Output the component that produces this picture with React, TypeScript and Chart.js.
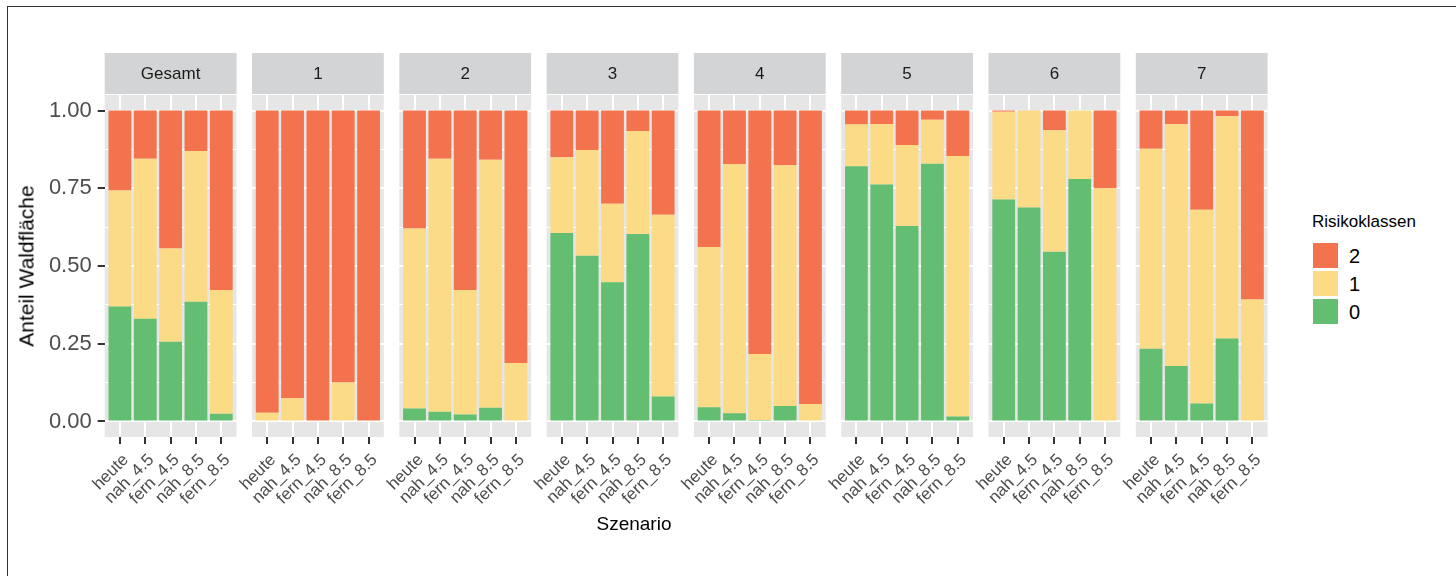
import React, { useEffect, useRef } from "react";
import { Chart, registerables } from "chart.js";

Chart.register(...registerables);

// Facets, scenarios and risk classes
const panels = ["Gesamt", "1", "2", "3", "4", "5", "6", "7"];
const scenarios = ["heute", "nah_4.5", "fern_4.5", "nah_8.5", "fern_8.5"];
const riskClasses = ["0", "1", "2"];
const legendOrder = ["2", "1", "0"];
const majorTicks = [0, 0.25, 0.5, 0.75, 1];

// Share of forest area per risk class; rows = facet, columns = scenario
const class0 = [
  [0.37, 0.33, 0.256, 0.385, 0.025],
  [0, 0, 0, 0, 0],
  [0.042, 0.031, 0.022, 0.044, 0],
  [0.606, 0.533, 0.448, 0.603, 0.08],
  [0.046, 0.026, 0.005, 0.05, 0],
  [0.821, 0.762, 0.629, 0.829, 0.016],
  [0.714, 0.688, 0.546, 0.78, 0.003],
  [0.234, 0.178, 0.058, 0.267, 0],
];
const class1 = [
  [0.373, 0.515, 0.3, 0.485, 0.3975],
  [0.028, 0.075, 0, 0.125, 0],
  [0.579, 0.814, 0.401, 0.798, 0.188],
  [0.244, 0.34, 0.252, 0.331, 0.585],
  [0.515, 0.802, 0.212, 0.774, 0.056],
  [0.134, 0.195, 0.26, 0.141, 0.838],
  [0.282, 0.311, 0.391, 0.22, 0.747],
  [0.643, 0.778, 0.623, 0.715, 0.392],
];
const class2 = [
  [0.257, 0.155, 0.444, 0.13, 0.5775],
  [0.972, 0.925, 1, 0.875, 1],
  [0.379, 0.155, 0.577, 0.158, 0.812],
  [0.15, 0.127, 0.3, 0.066, 0.335],
  [0.439, 0.172, 0.783, 0.176, 0.944],
  [0.045, 0.043, 0.111, 0.03, 0.146],
  [0.004, 0.001, 0.063, 0, 0.25],
  [0.123, 0.044, 0.319, 0.018, 0.608],
];
const classSeries = [class0, class1, class2];

const classColors: Record<string, string> = {
  "0": "#63BE71",
  "1": "#FCDB87",
  "2": "#F4734F",
};

const FONT = '"Liberation Sans", Arial, Helvetica, sans-serif';
const PANEL_BG = "#E6E6E7";
const STRIP_BG = "#D3D4D5";
const TICK_TEXT = "#4D4D4D";

// Facet geometry
const STRIP_H = 42;
const PANEL_H = 342;
const XAXIS_H = 80;
const CANVAS_TOP = 53;
const FIRST_LEFT = 104.7;
const PANEL_STEP = 147.3;
const PANEL_W = 131.8;
const LEFT_OVERHANG = 24;
const RIGHT_OVERHANG = 12;

const gridValues = [0, 0.125, 0.25, 0.375, 0.5, 0.625, 0.75, 0.875, 1];
const isMajor = (v: number) => majorTicks.some((m) => Math.abs(m - v) < 1e-9);

function FacetPanel({ index }: { index: number }) {
  const ref = useRef<HTMLCanvasElement | null>(null);
  const first = index === 0;
  const panelLeft = FIRST_LEFT + PANEL_STEP * index;
  const canvasLeft = first ? 0 : Math.floor(panelLeft) - LEFT_OVERHANG;
  const padLeft = first ? 0 : panelLeft - canvasLeft;
  const canvasW = Math.ceil(panelLeft - canvasLeft + PANEL_W + RIGHT_OVERHANG);
  const padRight = canvasW - (panelLeft - canvasLeft + PANEL_W);
  const canvasH = STRIP_H + PANEL_H + XAXIS_H;

  useEffect(() => {
    const canvas = ref.current;
    if (!canvas) return;
    const title = panels[index];

    const decor = {
      id: "panelDecor",
      beforeDraw(chart: any) {
        const { ctx, chartArea: a } = chart;
        ctx.save();
        ctx.fillStyle = PANEL_BG;
        ctx.fillRect(a.left, a.top, a.right - a.left, a.bottom - a.top);
        ctx.fillStyle = STRIP_BG;
        ctx.fillRect(a.left, a.top - STRIP_H, a.right - a.left, STRIP_H - 1);
        ctx.fillStyle = "#1A1A1A";
        ctx.font = `17px ${FONT}`;
        ctx.textAlign = "center";
        ctx.textBaseline = "middle";
        ctx.fillText(title, (a.left + a.right) / 2, a.top - STRIP_H / 2);
        ctx.restore();
      },
    };

    const chart = new Chart(canvas, {
      type: "bar",
      data: {
        datasets: riskClasses.map((cls, k) => ({
          label: cls,
          data: classSeries[k][index].map((v, i) => ({ x: i + 1, y: v })),
          backgroundColor: classColors[cls],
          borderWidth: 0,
          categoryPercentage: 1,
          barPercentage: 0.9,
        })),
      },
      options: {
        responsive: false,
        maintainAspectRatio: false,
        animation: false,
        devicePixelRatio: 1,
        layout: { padding: { top: STRIP_H, left: padLeft, right: padRight, bottom: 0 } },
        plugins: { legend: { display: false }, tooltip: { enabled: false } },
        scales: {
          x: {
            type: "linear",
            stacked: true,
            min: 0.4,
            max: 5.6,
            offset: false,
            afterBuildTicks: (s: any) => {
              s.ticks = scenarios.map((_, i) => ({ value: i + 1 }));
            },
            afterFit: (s: any) => {
              s.height = XAXIS_H;
              s.paddingLeft = 0;
              s.paddingRight = 0;
            },
            grid: {
              offset: false,
              color: "#FFFFFF",
              lineWidth: 2,
              drawTicks: true,
              tickLength: 7,
              tickColor: "#333333",
              tickWidth: 2,
            },
            border: { display: false },
            ticks: {
              autoSkip: false,
              minRotation: 45,
              maxRotation: 45,
              padding: 6,
              labelOffset: 6,
              color: TICK_TEXT,
              font: { family: FONT, size: 17 },
              callback: (v: any) => scenarios[Math.round(Number(v)) - 1] ?? "",
            },
          },
          y: {
            stacked: true,
            min: -0.05,
            max: 1.05,
            afterBuildTicks: (s: any) => {
              s.ticks = gridValues.map((v) => ({ value: v }));
            },
            afterFit: (s: any) => {
              s.width = first ? FIRST_LEFT : 0;
              s.paddingTop = 0;
              s.paddingBottom = 0;
            },
            grid: {
              color: "#FFFFFF",
              lineWidth: (c: any) => (isMajor(c.tick?.value) ? 2 : 1),
              drawTicks: first,
              tickLength: 7,
              tickWidth: 2,
              tickColor: (c: any) => (isMajor(c.tick?.value) ? "#333333" : "rgba(0,0,0,0)"),
            },
            border: { display: false },
            ticks: {
              display: first,
              padding: 6,
              color: TICK_TEXT,
              font: { family: FONT, size: 22 },
              callback: (v: any) => (isMajor(Number(v)) ? Number(v).toFixed(2) : ""),
            },
          },
        },
      },
      plugins: [decor],
    } as any);

    return () => chart.destroy();
  }, [index]);

  return (
    <canvas
      ref={ref}
      width={canvasW}
      height={canvasH}
      style={{
        position: "absolute",
        left: canvasLeft,
        top: CANVAS_TOP,
        width: canvasW,
        height: canvasH,
      }}
    />
  );
}

export default function App() {
  const text = { position: "absolute" as const, fontFamily: FONT, color: "#000", whiteSpace: "nowrap" as const, lineHeight: 1 };
  return (
    <div
      style={{
        position: "absolute",
        left: 0,
        top: 0,
        width: 1456,
        height: 576,
        overflow: "hidden",
        background: "#FFFFFF",
      }}
    >
      <div
        style={{
          position: "absolute",
          left: 7,
          top: 6,
          width: 1460,
          height: 580,
          borderLeft: "1px solid #333333",
          borderTop: "1px solid #333333",
        }}
      />
      {panels.map((_, i) => (
        <FacetPanel key={i} index={i} />
      ))}
      <div
        style={{
          ...text,
          fontSize: 21,
          left: 26,
          top: 266,
          transform: "translate(-50%, -50%) rotate(-90deg)",
        }}
      >
        Anteil Waldfläche
      </div>
      <div style={{ ...text, fontSize: 19, left: 634, top: 523, transform: "translate(-50%, -50%)" }}>
        Szenario
      </div>
      <div style={{ ...text, fontSize: 17, left: 1312, top: 221, transform: "translateY(-50%)" }}>
        Risikoklassen
      </div>
      {legendOrder.map((cls, i) => (
        <React.Fragment key={cls}>
          <div
            style={{
              position: "absolute",
              left: 1313,
              top: 242.5 + i * 28,
              width: 25,
              height: 25,
              background: classColors[cls],
            }}
          />
          <div style={{ ...text, fontSize: 20, left: 1349, top: 256 + i * 28, transform: "translateY(-50%)" }}>
            {cls}
          </div>
        </React.Fragment>
      ))}
    </div>
  );
}
